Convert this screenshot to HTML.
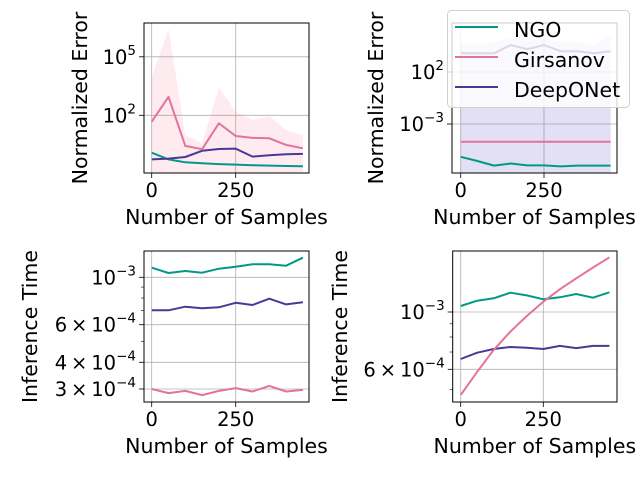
<!DOCTYPE html>
<html><head><meta charset="utf-8"><style>
html,body{margin:0;padding:0;background:#fff;}
svg{display:block;font-family:"DejaVu Sans","Liberation Sans",sans-serif;}
</style></head><body>
<svg id="fig" width="640" height="480" viewBox="0 0 640 480"></svg>
<script>
const xs = [0,50,100,150,200,250,300,350,400,450];
// panel A (log10 of normalized error)
const aGirsanov = [1.67,2.95,0.43,0.26,1.59,0.94,0.84,0.82,0.48,0.31];
const aGirsanovUpper = [3.98,6.41,0.99,0.56,3.42,2.18,1.76,1.96,1.25,0.99];
const aNGO = [0.08,-0.26,-0.41,-0.46,-0.5,-0.53,-0.56,-0.58,-0.6,-0.61];
const aDeep = [-0.26,-0.22,-0.14,0.18,0.27,0.29,-0.12,-0.05,0.0,0.02];
// panel B (log10)
const bGirsanov = [-4.7,-4.7,-4.7,-4.7,-4.7,-4.7,-4.7,-4.7,-4.7,-4.7];
const bNGO = [-6.15,-6.56,-7.0,-6.8,-6.98,-6.98,-7.08,-7.0,-7.0,-7.0];
const bDeep = [3.8,3.8,3.8,4.6,4.2,4.6,4.0,4.0,3.8,4.0];
const bDeepUpper = [4.8,4.7,4.8,5.3,5.0,5.3,4.9,4.9,4.6,5.6];
// panel C (seconds)
const cNGO = [1.109e-3,1.047e-3,1.070e-3,1.051e-3,1.097e-3,1.121e-3,1.151e-3,1.151e-3,1.133e-3,1.235e-3];
const cDeep = [0.701e-3,0.701e-3,0.728e-3,0.716e-3,0.724e-3,0.760e-3,0.742e-3,0.794e-3,0.747e-3,0.764e-3];
const cGirsanov = [3.0e-4,2.87e-4,2.94e-4,2.81e-4,2.94e-4,3.03e-4,2.92e-4,3.10e-4,2.92e-4,2.97e-4];
// panel D (seconds)
const dNGO = [1.055e-3,1.106e-3,1.130e-3,1.188e-3,1.160e-3,1.120e-3,1.140e-3,1.174e-3,1.136e-3,1.192e-3];
const dDeep = [0.658e-3,0.696e-3,0.719e-3,0.732e-3,0.727e-3,0.719e-3,0.739e-3,0.725e-3,0.739e-3,0.739e-3];
const dGirsanov = [0.477e-3,0.587e-3,0.713e-3,0.839e-3,0.965e-3,1.096e-3,1.224e-3,1.350e-3,1.485e-3,1.628e-3];

const C_NGO="#009988", C_GIR="#e3739b", C_DEEP="#473a96";
const NS="http://www.w3.org/2000/svg";
const fig=document.getElementById('fig');
function mk(tag,attrs,parent){const e=document.createElementNS(NS,tag);for(const k in attrs)e.setAttribute(k,attrs[k]);(parent||fig).appendChild(e);return e;}

function panel(p){
  const g=mk('g',{});
  
  
  const X=v=>p.x0px+(v/250)*(p.x250px-p.x0px);
  const Y=l=>p.refY-(l-p.refL)*p.pxPerDec;
  const clipId=p.name+'-clip';
  const cp=mk('clipPath',{id:clipId},g);mk('rect',{x:p.L,y:p.T,width:p.R-p.L,height:p.B-p.T},cp);
  [0,250].forEach(v=>{const l=mk('line',{x1:X(v),x2:X(v),y1:p.T,y2:p.B,stroke:'#b0b0b0','stroke-width':0.8},g);});
  p.major.forEach(m=>{const l=mk('line',{x1:p.L,x2:p.R,y1:Y(m.l),y2:Y(m.l),stroke:'#b0b0b0','stroke-width':0.8},g);});
  const plot=mk('g',{'clip-path':'url(#'+clipId+')'},g);
  (p.bands||[]).forEach(b=>{
    let d='M'+X(xs[0])+','+p.B+' ';
    xs.forEach((x,i)=>{d+='L'+X(x)+','+Y(b.upper[i])+' ';});
    d+='L'+X(xs[xs.length-1])+','+(p.B+5)+' L'+X(xs[0])+','+(p.B+5)+'Z';
    const e=mk('path',{d:d,fill:b.fill,stroke:'none'},plot);
    
    
  });
  p.series.forEach(s=>{
    const pts=xs.map((x,i)=>X(x).toFixed(1)+','+Y(s.v[i]).toFixed(1)).join(' ');
    const e=mk('polyline',{points:pts,fill:'none',stroke:s.c,'stroke-width':2,'stroke-linejoin':'round'},plot);
    
    
  });
  const fr=mk('rect',{x:p.L,y:p.T,width:p.R-p.L,height:p.B-p.T,fill:'none',stroke:'#000','stroke-width':1},g);
  
  [0,250].forEach(v=>{
    mk('line',{x1:X(v),x2:X(v),y1:p.B,y2:p.B+5,stroke:'#000','stroke-width':0.8},g);
    const t=mk('text',{x:X(v),y:p.B+24,'font-size':19.5,'text-anchor':'middle',fill:'#000'},g);t.textContent=String(v);
    
  });
  (p.minor||[]).forEach(l=>{mk('line',{x1:p.L-3,x2:p.L,y1:Y(l),y2:Y(l),stroke:'#000','stroke-width':0.6},g);});
  p.major.forEach(m=>{
    mk('line',{x1:p.L-5,x2:p.L,y1:Y(m.l),y2:Y(m.l),stroke:'#000','stroke-width':0.8},g);
    const t=mk('text',{x:p.L-8,y:Y(m.l)+7,'font-size':19.5,'text-anchor':'end',fill:'#000'},g);
    t.innerHTML=(m.pre?m.pre+'\u2009\u00d7\u200910':'10')+'<tspan dy="-9" font-size="13.5">'+m.exp+'</tspan>';
    
  });
  const xl=mk('text',{x:(p.L+p.R)/2,y:p.B+51,'font-size':20.5,'text-anchor':'middle',fill:'#000'},g);
  xl.textContent='Number of Samples';
  const yl=mk('text',{x:0,y:0,'font-size':20.5,'text-anchor':'middle',fill:'#000',transform:'translate('+p.ylx+','+((p.T+p.B)/2)+') rotate(-90)'},g);
  yl.textContent=p.ylabel;
}
const lg=Math.log10;
panel({name:'panel-error-left',L:144,R:309,T:23,B:173,x0px:151.7,x250px:235.7,refY:115.3,refL:2,pxPerDec:19.5,
  major:[{l:5,exp:'5'},{l:2,exp:'2'}],ylabel:'Normalized Error',ylx:87,
  bands:[{name:'girsanov-band',upper:aGirsanovUpper,fill:'rgba(238,102,136,0.13)'}],
  series:[{name:'ngo-line',v:aNGO,c:C_NGO},{name:'deeponet-line',v:aDeep,c:C_DEEP},{name:'girsanov-line',v:aGirsanov,c:C_GIR}]});
panel({name:'panel-error-right',L:452,R:617,T:23,B:173,x0px:460.7,x250px:544,refY:124,refL:-3,pxPerDec:10.4,
  major:[{l:2,exp:'2'},{l:-3,exp:'\u22123'}],ylabel:'Normalized Error',ylx:383,
  bands:[{name:'deeponet-band',upper:bDeepUpper,fill:'rgba(90,70,200,0.17)'}],
  series:[{name:'ngo-line',v:bNGO,c:C_NGO},{name:'girsanov-line',v:bGirsanov,c:C_GIR},{name:'deeponet-line',v:bDeep,c:C_DEEP}]});
panel({name:'panel-time-left',L:144,R:309,T:251,B:402,x0px:151.7,x250px:235.7,refY:277.3,refL:-3,pxPerDec:213.6,
  major:[{l:-3,exp:'\u22123'},{l:lg(6e-4),pre:'6',exp:'\u22124'},{l:lg(4e-4),pre:'4',exp:'\u22124'},{l:lg(3e-4),pre:'3',exp:'\u22124'}],
  minor:[lg(9e-4),lg(8e-4),lg(7e-4),lg(5e-4)],ylabel:'Inference Time',ylx:37,
  series:[{name:'ngo-line',v:cNGO.map(lg),c:C_NGO},{name:'deeponet-line',v:cDeep.map(lg),c:C_DEEP},{name:'girsanov-line',v:cGirsanov.map(lg),c:C_GIR}]});
panel({name:'panel-time-right',L:452.7,R:617,T:251,B:402,x0px:460.7,x250px:543.3,refY:312,refL:-3,pxPerDec:258.3,
  major:[{l:-3,exp:'\u22123'},{l:lg(6e-4),pre:'6',exp:'\u22124'}],
  minor:[lg(9e-4),lg(8e-4),lg(7e-4),lg(5e-4)],ylabel:'Inference Time',ylx:347,
  series:[{name:'ngo-line',v:dNGO.map(lg),c:C_NGO},{name:'deeponet-line',v:dDeep.map(lg),c:C_DEEP},{name:'girsanov-line',v:dGirsanov.map(lg),c:C_GIR}]});
const leg=mk('g',{});


mk('rect',{x:447.5,y:10.5,width:182,height:97,rx:4,fill:'rgba(255,255,255,0.8)',stroke:'#d0d0d0','stroke-width':1},leg);
[['NGO',C_NGO,37],['Girsanov',C_GIR,67],['DeepONet',C_DEEP,97]].forEach(([n,c,y])=>{
  const e=mk('g',{},leg);
  
  
  mk('line',{x1:455,x2:498,y1:y-10,y2:y-10,stroke:c,'stroke-width':2},e);
  const t=mk('text',{x:514,y:y,'font-size':20.5,fill:'#000'},e);t.textContent=n;
});
</script>
</body></html>
